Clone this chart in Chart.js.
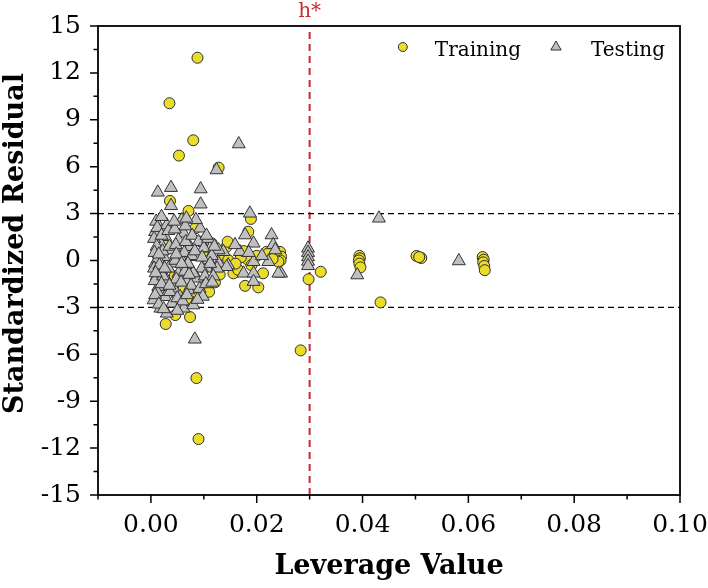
<!DOCTYPE html>
<html>
<head>
<meta charset="utf-8">
<script src="https://cdn.jsdelivr.net/npm/chart.js@4.4.0/dist/chart.umd.min.js"></script>
<style>
  html, body { margin: 0; padding: 0; background: #fff; }
</style>
</head>
<body>
<canvas id="chart" width="708" height="588"></canvas>
<script>
// Williams plot: standardized residual vs leverage, training + testing sets.

const H_STAR = 0.03;      // warning leverage
const RES_LIMIT = 3;      // ±3 residual band
const X_MIN = -0.01, X_MAX = 0.10;
const Y_MIN = -15, Y_MAX = 15;

// Training set (circles)
const trainLeverage = [
  0.0088, 0.0035, 0.0080, 0.0053, 0.0128, 0.0036, 0.0071, 0.0189, 0.0028, 0.0074,
  0.0046, 0.0283, 0.0086, 0.0090, 0.0434, 0.0321, 0.0298, 0.0394, 0.0395, 0.0393,
  0.0394, 0.0396, 0.0502, 0.0511, 0.0507, 0.0627, 0.0629, 0.0628, 0.0630, 0.0631,
  0.0244, 0.0246, 0.0245, 0.0084, 0.0115, 0.0137, 0.0115, 0.0084, 0.0062, 0.0143,
  0.0145, 0.0156, 0.0121, 0.0178, 0.0203, 0.0219, 0.0241, 0.0146, 0.0184, 0.0165,
  0.0212, 0.0184, 0.0222, 0.0200, 0.0170, 0.0190, 0.0230, 0.0175, 0.0160, 0.0100,
  0.0105, 0.0095, 0.0060, 0.0030, 0.0045, 0.0020, 0.0075, 0.0110, 0.0130
];
const trainResidual = [
  12.97, 10.06, 7.69, 6.71, 5.94, 3.81, 3.17, 2.66, -4.06, -3.62,
  -3.49, -5.75, -7.52, -11.42, -2.68, -0.72, -1.20, 0.30, 0.14, 0.00,
  -0.20, -0.44, 0.29, 0.16, 0.22, 0.22, 0.05, -0.12, -0.35, -0.62,
  0.55, 0.25, 0.00, 2.06, 1.10, 0.35, -1.35, -2.20, -1.78, 0.88,
  1.20, -0.82, -1.40, -1.62, -1.72, 0.56, -0.08, 0.03, 0.03, -0.60,
  -0.82, 1.84, 0.46, 0.30, 0.20, -0.30, 0.10, 0.60, -0.20, 0.50,
  -0.30, 1.20, 0.00, 1.00, -1.00, -2.00, -2.60, -2.00, -0.90
];

// Testing set (triangles)
const testLeverage = [
  0.0166, 0.0124, 0.0013, 0.0038, 0.0094, 0.0038, 0.0094, 0.0187, 0.0083, 0.0431,
  0.0297, 0.0297, 0.0297, 0.0297, 0.0297, 0.0246, 0.0390, 0.0582,
  0.0178, 0.0194, 0.0228, 0.0231, 0.0235, 0.0168, 0.0194, 0.0222, 0.0175, 0.0194,
  0.0241, 0.0137, 0.0128, 0.0146, 0.0194, 0.0159, 0.0112, 0.0143, 0.0106, 0.0210,
  0.0185,
  0.0030, 0.0058, 0.0008, 0.0027, 0.0062, 0.0093, 0.0052, 0.0018, 0.0074, 0.0128,
  0.0040, 0.0055, 0.0024, 0.0087, 0.0109, 0.0008, 0.0040, 0.0071, 0.0096, 0.0125,
  0.0018, 0.0052, 0.0030, 0.0068, 0.0087, 0.0014, 0.0043, 0.0071, 0.0027, 0.0055,
  0.0005, 0.0040, 0.0062, 0.0018, 0.0030, 0.0080,
  0.0010, 0.0012, 0.0006, 0.0011, 0.0007, 0.0013, 0.0006, 0.0011, 0.0007, 0.0012,
  0.0008, 0.0015, 0.0020, 0.0020, 0.0022, 0.0016, 0.0023, 0.0020, 0.0033, 0.0035,
  0.0033, 0.0036, 0.0045, 0.0047, 0.0046, 0.0048, 0.0050, 0.0065, 0.0066, 0.0063,
  0.0064, 0.0060, 0.0078, 0.0080, 0.0076, 0.0077, 0.0090, 0.0092, 0.0085, 0.0100,
  0.0102, 0.0098, 0.0115, 0.0118, 0.0108, 0.0024, 0.0050,
  0.0070, 0.0083, 0.0097, 0.0105, 0.0112, 0.0120, 0.0068, 0.0088, 0.0104, 0.0116,
  0.0057, 0.0072, 0.0035, 0.0048, 0.0026, 0.0015, 0.0009, 0.0044, 0.0058, 0.0067
];
const testResidual = [
  7.45, 5.79, 4.36, 4.66, 4.57, 3.50, 3.60, 3.02, -5.04, 2.70,
  0.78, 0.50, 0.22, -0.06, -0.34, -0.82, -0.93, -0.03,
  1.63, 1.10, 1.63, 1.00, 0.67, 0.56, -0.08, -0.08, -0.82, -0.82,
  -0.82, 0.56, -0.18, -0.29, -1.35, 1.00, 0.78, -0.40, -0.50, 0.30,
  0.50,
  2.27, 2.59, 1.84, 1.52, 1.74, 2.06, 1.31, 1.10, 0.88, 0.67,
  0.67, 0.24, 0.24, 0.24, 0.03, -0.18, -0.18, -0.29, -0.50, -0.50,
  -0.72, -0.82, -1.25, -1.35, -1.14, -1.68, -1.78, -1.89, -2.32, -2.32,
  -2.53, -2.74, -3.06, -3.06, -3.38, -2.85,
  2.50, 2.10, 1.40, 0.90, 0.50, 0.10, -0.50, -1.00, -1.30, -2.00,
  -2.20, -2.80, 2.80, 1.60, 0.60, -0.30, -1.00, -1.50, 1.90, 0.90,
  -0.50, -2.00, 2.00, 1.00, 0.00, -1.20, -2.40, 2.20, 1.20, 0.50,
  -0.70, -2.60, 1.60, -0.80, -1.60, 0.30, 1.20, -1.80, 2.60, 0.80,
  -1.00, -2.30, 0.30, -1.00, 1.40, -3.10, -3.20,
  -0.20, 0.60, 0.20, 1.60, -0.20, 0.90, -2.20, -2.50, -1.50, -1.40,
  -1.40, -0.90, -1.60, 0.40, -0.50, 0.40, -0.80, 2.50, -0.20, 2.70
];

const SERIF = '"DejaVu Serif", "Liberation Serif", serif';
const TRAIN_FILL = '#e9dc2b';
const TEST_FILL = '#c0c0c0';
const RED = '#c62a2f';

const toPoints = (xs, ys) => xs.map((v, i) => ({ x: v, y: ys[i] }));

// frame, minor/major ticks, h* label, y title and legend
const decorations = {
  id: 'decorations',
  afterDraw(chart) {
    const { ctx, chartArea: a, scales } = chart;
    const xs = scales.x, ys = scales.y;
    ctx.save();

    ctx.strokeStyle = '#000';
    ctx.lineWidth = 1.8;
    ctx.strokeRect(a.left, a.top, a.right - a.left, a.bottom - a.top);

    ctx.lineWidth = 1.5;
    ctx.beginPath();
    xs.ticks.forEach(t => {
      const px = xs.getPixelForValue(t.value);
      const len = t.label ? 8 : 4.5;
      ctx.moveTo(px, a.bottom);
      ctx.lineTo(px, a.bottom + len);
    });
    ys.ticks.forEach(t => {
      const py = ys.getPixelForValue(t.value);
      const len = t.label ? 8 : 4.5;
      ctx.moveTo(a.left, py);
      ctx.lineTo(a.left - len, py);
    });
    ctx.stroke();

    // h* label above the frame
    ctx.fillStyle = RED;
    ctx.font = '20px ' + SERIF;
    ctx.textAlign = 'center';
    ctx.textBaseline = 'alphabetic';
    ctx.fillText('h*', xs.getPixelForValue(H_STAR), a.top - 9);

    // y axis title (sits a little above the plot centre, as in the original)
    ctx.save();
    ctx.translate(23, (a.top + a.bottom) / 2 - 17);
    ctx.rotate(-Math.PI / 2);
    ctx.fillStyle = '#000';
    ctx.font = 'bold 27px ' + SERIF;
    ctx.fillText('Standardized Residual', 0, 0);
    ctx.restore();

    // legend, top-right inside the frame
    ctx.font = '20px ' + SERIF;
    ctx.textAlign = 'left';
    ctx.fillStyle = '#000';
    const baseY = a.top + 30;
    const markY = a.top + 21;
    const wTest = ctx.measureText('Testing').width;
    const wTrain = ctx.measureText('Training').width;
    const testX = a.right - 15 - wTest;
    const triX = testX - 35;
    const trainX = triX - 35 - wTrain;
    const circX = trainX - 32;
    ctx.fillText('Testing', testX, baseY);
    ctx.fillText('Training', trainX, baseY);

    ctx.lineWidth = 1;
    ctx.strokeStyle = '#333';
    ctx.fillStyle = TRAIN_FILL;
    ctx.beginPath();
    ctx.arc(circX, markY, 4.5, 0, Math.PI * 2);
    ctx.fill();
    ctx.stroke();

    const r = 6;
    ctx.fillStyle = TEST_FILL;
    ctx.beginPath();
    ctx.moveTo(triX, markY - r);
    ctx.lineTo(triX + r * 0.866, markY + r / 2);
    ctx.lineTo(triX - r * 0.866, markY + r / 2);
    ctx.closePath();
    ctx.fill();
    ctx.stroke();

    ctx.restore();
  }
};

const refLine = (pts, color, width, dash) => ({
  data: pts,
  showLine: true,
  borderColor: color,
  borderWidth: width,
  borderDash: dash,
  pointRadius: 0,
  order: 3
});

new Chart(document.getElementById('chart'), {
  type: 'scatter',
  data: {
    datasets: [
      {
        label: 'Training',
        data: toPoints(trainLeverage, trainResidual),
        pointStyle: 'circle',
        pointRadius: 5.5,
        backgroundColor: TRAIN_FILL,
        borderColor: '#2e2e2e',
        borderWidth: 1,
        order: 2
      },
      {
        label: 'Testing',
        data: toPoints(testLeverage, testResidual),
        pointStyle: 'triangle',
        pointRadius: 7.5,
        backgroundColor: TEST_FILL,
        borderColor: '#333',
        borderWidth: 1,
        order: 1
      },
      refLine([{ x: X_MIN, y: RES_LIMIT }, { x: X_MAX, y: RES_LIMIT }], '#000', 1.3, [6, 4]),
      refLine([{ x: X_MIN, y: -RES_LIMIT }, { x: X_MAX, y: -RES_LIMIT }], '#000', 1.3, [6, 4]),
      refLine([{ x: H_STAR, y: Y_MIN }, { x: H_STAR, y: Y_MAX }], RED, 2, [7, 5])
    ]
  },
  options: {
    responsive: false,
    animation: false,
    layout: { padding: { top: 26, right: 28, left: 0, bottom: 0 } },
    plugins: {
      legend: { display: false },
      tooltip: { enabled: false }
    },
    scales: {
      x: {
        type: 'linear',
        min: X_MIN,
        max: X_MAX,
        grid: { display: false, drawTicks: false },
        border: { display: false },
        ticks: {
          stepSize: 0.01,
          autoSkip: false,
          maxRotation: 0,
          padding: 15,
          color: '#000',
          font: { family: SERIF, size: 25 },
          callback: (v, i) => (i % 2 === 1 ? Number(v).toFixed(2) : '')
        },
        title: {
          display: true,
          text: 'Leverage Value',
          color: '#000',
          font: { family: SERIF, size: 27, weight: 'bold' },
          padding: { top: 0, bottom: 5 }
        },
        afterFit: s => { s.height = 93; s.paddingLeft = 0; s.paddingRight = 0; }
      },
      y: {
        type: 'linear',
        min: Y_MIN,
        max: Y_MAX,
        grid: { display: false, drawTicks: false },
        border: { display: false },
        ticks: {
          stepSize: 1.5,
          autoSkip: false,
          padding: 17,
          color: '#000',
          font: { family: SERIF, size: 25 },
          callback: (v, i) => (i % 2 === 0 ? String(Math.round(v)) : '')
        },
        afterFit: s => { s.width = 98; s.paddingTop = 0; s.paddingBottom = 0; }
      }
    }
  },
  plugins: [decorations]
});
</script>
</body>
</html>
